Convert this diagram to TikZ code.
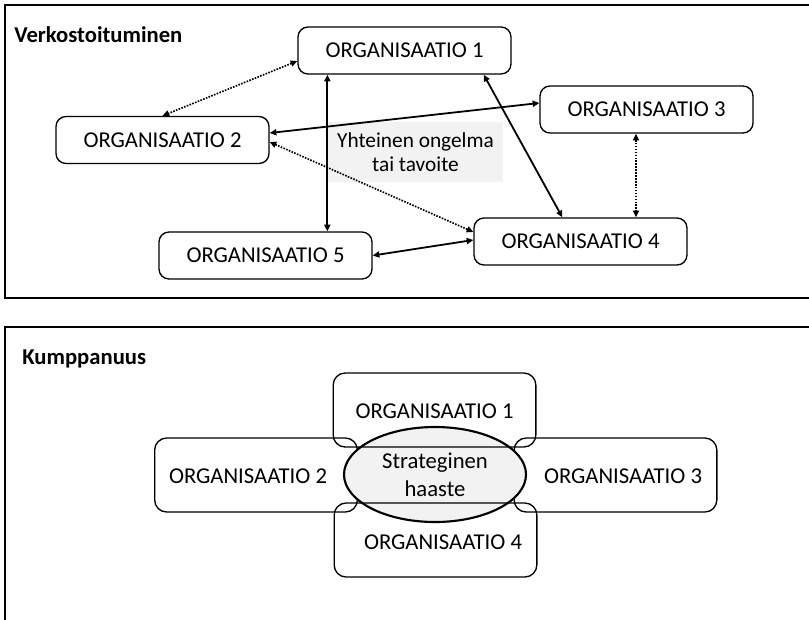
\documentclass[tikz,border=0pt]{standalone}
\usepackage{fontspec}
\setmainfont{Carlito}
\usetikzlibrary{arrows.meta,calc,shapes.geometric}
\definecolor{lgray}{HTML}{F2F2F2}
\begin{document}
\begin{tikzpicture}[x=0.75pt,y=-0.75pt,
  org/.style={draw, rounded corners=7.5pt, line width=1pt, minimum width=159.75pt, minimum height=35.25pt, inner sep=0pt, font=\fontsize{17}{20}\selectfont},
  korg/.style={draw, rounded corners=9pt, line width=1pt, minimum width=152pt, minimum height=55.5pt, inner sep=0pt},
  txt/.style={font=\fontsize{17}{20}\selectfont, inner sep=0pt},
  head/.style={font=\fontsize{17}{20}\selectfont\bfseries, inner sep=0pt, anchor=base west},
  link/.style={line width=1.35pt, {Triangle[length=5pt,width=4.5pt]}-{Triangle[length=5pt,width=4.5pt]}},
  dotlink/.style={link, line width=1.25pt, dash pattern=on 1.2pt off 1pt},
  panel/.style={line width=2pt}]
\clip (0,0) rectangle (809,619);
% panels
\draw[panel] (815,5) -- (5,5) -- (5,298) -- (815,298);
\draw[panel] (815,327) -- (5,327) -- (5,625);
% top panel
\node[head] (h1) at (14,42) {Verkostoituminen};
\node[fill=lgray, minimum width=131.25pt, minimum height=45pt, inner sep=0pt, align=center, font=\fontsize{16}{17.5}\selectfont] (goal) at (415.5,152) {Yhteinen ongelma\\tai tavoite};
\node[org] (o1) at (404.5,50.5) {ORGANISAATIO 1};
\node[org] (o2) at (162.5,140) {ORGANISAATIO 2};
\node[org] (o3) at (646.5,109.5) {ORGANISAATIO 3};
\node[org] (o4) at (580.5,241.5) {ORGANISAATIO 4};
\node[org] (o5) at (265.5,255.5) {ORGANISAATIO 5};
\draw[dotlink] ($(o1.west)+(0,10.5)$) -- (o2.north);
\coordinate (a15) at ($(o1.south west)+(30,0)$);
\draw[link] (a15) -- (a15 |- o5.north);
\draw[link] ($(o1.south east)+(-28,0)$) -- ($(o4.north west)+(89,0)$);
\draw[link] ($(o2.east)+(0,-7)$) -- ($(o3.west)+(0,-6.5)$);
\draw[dotlink] ($(o2.east)+(0,2)$) -- ($(o4.west)+(0,-9.5)$);
\coordinate (a34) at ($(o3.south)+(-10.5,0)$);
\draw[dotlink] (a34) -- (a34 |- o4.north);
\draw[link] (o5.east) -- ($(o4.west)+(0,-1.5)$);
% bottom panel
\node[head] (h2) at (22,364) {Kumppanuus};
\node[korg] (k2) at (256,475) {};
\node[korg] (k3) at (615.5,475) {};
\node[fill=lgray, ellipse, minimum width=136.5pt, minimum height=71.25pt, inner sep=0pt, align=center, font=\fontsize{17}{21}\selectfont] (c) at (435,474.5) {Strateginen\\haaste};
\node[korg] (k1) at (434.5,410) {};
\node[korg] (k4) at (435.5,540) {};
\draw[line width=1.6pt] (c.center) ellipse [x radius=68.25pt, y radius=35.625pt];
\node[txt] (t1) at ($(k1)+(0,1)$) {ORGANISAATIO 1};
\node[txt] (t2) at ($(k2)+(-8,1.5)$) {ORGANISAATIO 2};
\node[txt] (t3) at ($(k3)+(7.5,1.5)$) {ORGANISAATIO 3};
\node[txt] (t4) at ($(k4)+(7.5,2.5)$) {ORGANISAATIO 4};
\end{tikzpicture}
\end{document}
